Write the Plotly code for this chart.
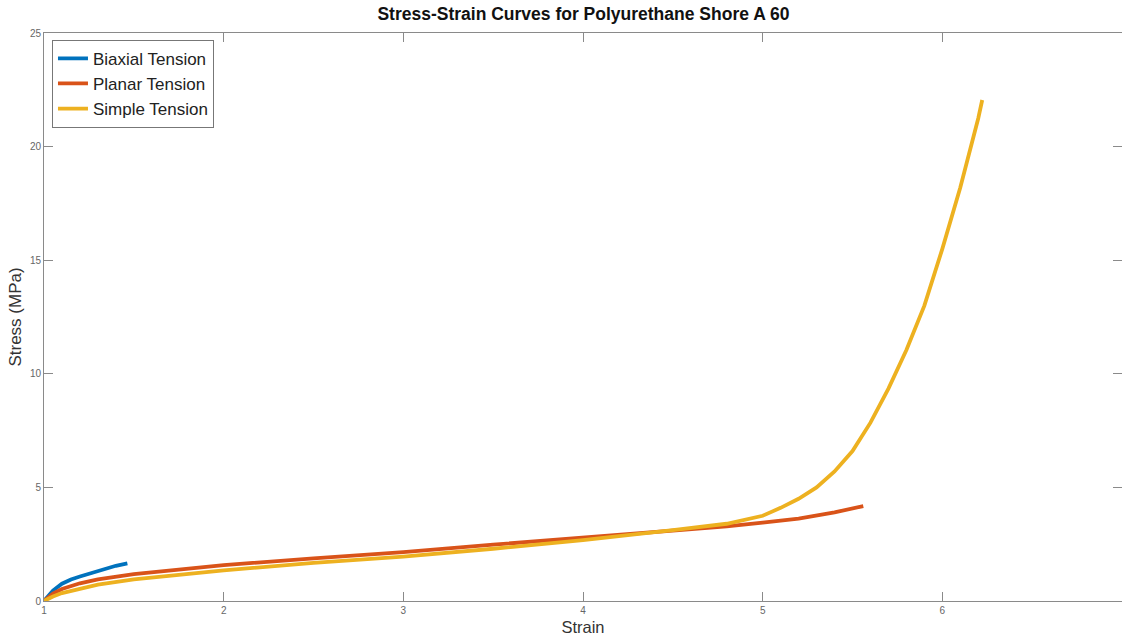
import plotly.graph_objects as go

# ---- data ----
biaxial_strain = [1.0, 1.02, 1.05, 1.1, 1.15, 1.2, 1.25, 1.3, 1.35, 1.4, 1.464]
biaxial_stress = [0.0, 0.2, 0.46, 0.76, 0.95, 1.08, 1.2, 1.34, 1.45, 1.55, 1.66]

planar_strain = [1.0, 1.05, 1.1, 1.2, 1.3, 1.5, 1.75, 2.0, 2.5, 3.0, 3.5, 4.0, 4.5, 4.8, 5.0, 5.2, 5.4, 5.56]
planar_stress = [0.0, 0.33, 0.53, 0.78, 0.95, 1.18, 1.38, 1.58, 1.88, 2.15, 2.48, 2.78, 3.1, 3.28, 3.45, 3.63, 3.9, 4.18]

simple_strain = [1.0, 1.05, 1.1, 1.2, 1.3, 1.5, 1.75, 2.0, 2.5, 3.0, 3.5, 4.0, 4.5, 4.8, 5.0, 5.1, 5.2,
                 5.3, 5.4, 5.5, 5.6, 5.7, 5.8, 5.9, 6.0, 6.1, 6.2, 6.222]
simple_stress = [0.0, 0.2, 0.35, 0.55, 0.72, 0.95, 1.15, 1.35, 1.68, 1.95, 2.3, 2.68, 3.12, 3.4, 3.75, 4.1, 4.5,
                 5.0, 5.7, 6.6, 7.85, 9.35, 11.05, 13.0, 15.5, 18.2, 21.25, 22.05]

series_names = ["Biaxial Tension", "Planar Tension", "Simple Tension"]
series_colors = ["#0072BD", "#D95319", "#EDB120"]

x_ticks = [1, 2, 3, 4, 5, 6, 7]
y_ticks = [0, 5, 10, 15, 20, 25]

FONT = "Liberation Sans, Arial, sans-serif"

fig = go.Figure()
for name, color, xs, ys in zip(series_names, series_colors,
                               [biaxial_strain, planar_strain, simple_strain],
                               [biaxial_stress, planar_stress, simple_stress]):
    fig.add_trace(go.Scatter(x=xs, y=ys, mode="lines", name=name,
                             line=dict(color=color, width=3.8)))

axis_common = dict(showline=True, linecolor="#8a8a8a", linewidth=1, mirror="ticks",
                   ticks="inside", ticklen=9, tickcolor="#8a8a8a", tickwidth=1,
                   showgrid=False, zeroline=False,
                   tickfont=dict(family=FONT, size=10, color="#666666"))

fig.update_layout(
    width=1122, height=642,
    margin=dict(l=44, r=0, t=33, b=41),
    paper_bgcolor="white", plot_bgcolor="white",
    title=dict(text="<b>Stress-Strain Curves for Polyurethane Shore A 60</b>",
               x=0.52, xanchor="center", y=0.978, yanchor="middle",
               font=dict(family=FONT, size=17.5, color="#111111")),
    font=dict(family=FONT),
    legend=dict(x=0.0074, y=0.988, xanchor="left", yanchor="top",
                bgcolor="white", bordercolor="#777777", borderwidth=1,
                font=dict(size=17, color="#222222"), tracegroupgap=0, itemwidth=30),
    showlegend=True,
)
fig.update_xaxes(range=[1, 7], tickvals=x_ticks,
                 title=dict(text="Strain", standoff=6,
                            font=dict(size=16.5, color="#333333")),
                 **axis_common)
fig.update_yaxes(range=[0, 25], tickvals=y_ticks,
                 title=dict(text="Stress (MPa)", standoff=3,
                            font=dict(size=17, color="#333333")),
                 **axis_common)

fig.write_html("out.html")
